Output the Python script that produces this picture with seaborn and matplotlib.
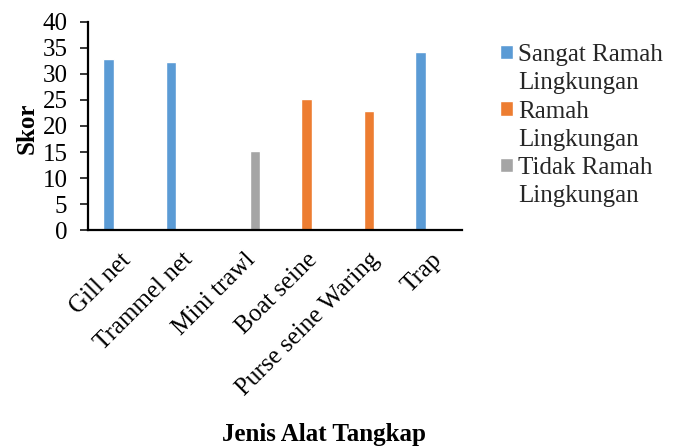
import matplotlib
matplotlib.use("Agg")
import matplotlib.pyplot as plt
import seaborn as sns
import pandas as pd
from matplotlib.patches import Patch

categories = ["Gill net", "Trammel net", "Mini trawl", "Boat seine", "Purse seine Waring", "Trap"]
scores = [32.8, 32.3, 15.2, 25.1, 22.9, 34.2]
classes = ["Sangat Ramah Lingkungan", "Sangat Ramah Lingkungan", "Tidak Ramah Lingkungan",
           "Ramah Lingkungan", "Ramah Lingkungan", "Sangat Ramah Lingkungan"]
class_order = ["Sangat Ramah Lingkungan", "Ramah Lingkungan", "Tidak Ramah Lingkungan"]
colors = ["#5B9BD5", "#ED7D31", "#A5A5A5"]
yticks = [0, 5, 10, 15, 20, 25, 30, 35, 40]

sns.set_style("white")
plt.rcParams["font.family"] = ["Liberation Serif", "DejaVu Serif"]

FS = 18

df = pd.DataFrame({"Jenis": categories, "Skor": scores, "Kelas": classes})

fig = plt.figure(figsize=(6.79, 4.46), dpi=100)
ax = fig.add_axes([0.130, 0.484, 0.551, 0.467])

sns.barplot(data=df, x="Jenis", y="Skor", hue="Kelas", order=categories,
            hue_order=class_order, palette=colors, width=0.515, dodge=True,
            saturation=1, ax=ax, legend=True)

ax.set_ylim(0, 40)
ax.set_yticks(yticks)
ax.set_xlim(-0.5, len(categories) - 0.5)
for s in ["top", "right"]:
    ax.spines[s].set_visible(False)
for s in ["left", "bottom"]:
    ax.spines[s].set_color("black")
    ax.spines[s].set_linewidth(1.6)

ax.tick_params(axis="y", which="both", left=True, length=6, width=1.1, color="black",
               labelsize=FS, pad=9)
ax.tick_params(axis="x", bottom=False, labelsize=FS, pad=10)
plt.setp(ax.get_xticklabels(), rotation=45, ha="right", rotation_mode="anchor")
for t in ax.get_yticklabels() + ax.get_xticklabels():
    t.set_color("black")

ax.set_ylabel("Skor", fontsize=FS, fontweight="bold", color="black")
ax.yaxis.set_label_coords(-0.133, 0.49)
ax.set_xlabel("")
fig.text(324 / 679, 1 - 434 / 446, "Jenis Alat Tangkap", fontsize=FS, fontweight="bold",
         ha="center", va="center", color="black")

handles, labels = ax.get_legend_handles_labels()
ax.get_legend().remove()
blank = Patch(facecolor="none", edgecolor="none")
leg_handles = []
leg_labels = []
for h, lab in zip(handles, labels):
    first, second = lab.rsplit(" ", 1)
    leg_handles += [h, blank]
    leg_labels += [first, second]
fig.legend(leg_handles, leg_labels, loc="upper left", bbox_to_anchor=(500 / 679, 1 - 44 / 446),
           frameon=False, fontsize=FS, handlelength=0.52, handleheight=0.52,
           handletextpad=0.22, labelspacing=0.25, borderaxespad=0, borderpad=0)

fig.savefig("out.png", dpi=100)
